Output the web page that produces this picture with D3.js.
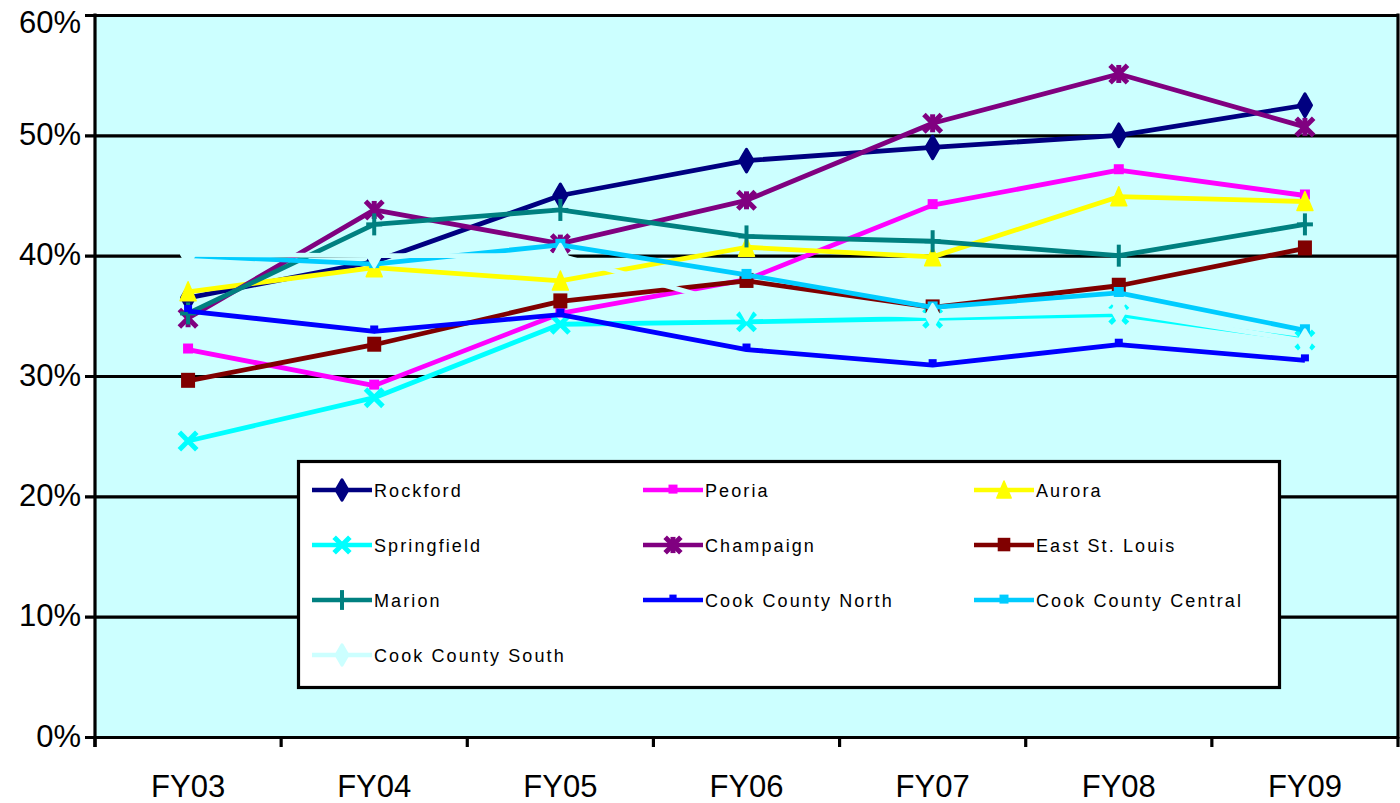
<!DOCTYPE html>
<html>
<head>
<meta charset="utf-8">
<script src="https://cdn.jsdelivr.net/npm/d3@7"></script>
<style>
  html, body { margin: 0; padding: 0; background: #fff; }
  svg { display: block; }
  text { font-family: "Liberation Sans", Arial, sans-serif; fill: #000; }
</style>
</head>
<body>
<svg id="chart" width="1400" height="803"></svg>
<script>
// Fiscal years on the category axis
const years = ["FY03", "FY04", "FY05", "FY06", "FY07", "FY08", "FY09"];

// Share per region, by fiscal year (fractions)
const rockford        = [0.365, 0.395, 0.450, 0.479, 0.490, 0.500, 0.525];
const peoria          = [0.322, 0.292, 0.352, 0.380, 0.442, 0.471, 0.450];
const aurora          = [0.370, 0.390, 0.379, 0.407, 0.399, 0.449, 0.445];
const springfield     = [0.246, 0.282, 0.343, 0.345, 0.348, 0.351, 0.330];
const champaign       = [0.348, 0.438, 0.410, 0.446, 0.510, 0.551, 0.507];
const eastStLouis     = [0.296, 0.326, 0.362, 0.379, 0.357, 0.375, 0.406];
const marion          = [0.352, 0.426, 0.438, 0.416, 0.412, 0.400, 0.426];
const cookNorth       = [0.354, 0.337, 0.351, 0.322, 0.309, 0.326, 0.313];
const cookCentral     = [0.400, 0.393, 0.409, 0.384, 0.357, 0.369, 0.338];
const cookSouth       = [0.401, 0.400, 0.400, 0.356, 0.350, 0.354, 0.329];

// Value axis ticks
const yTicks = [0, 0.1, 0.2, 0.3, 0.4, 0.5, 0.6];

const series = [
  { name: "Rockford",            values: rockford,    color: "#000080", marker: "diamond" },
  { name: "Peoria",              values: peoria,      color: "#FF00FF", marker: "smallSquare" },
  { name: "Aurora",              values: aurora,      color: "#FFFF00", marker: "triangle" },
  { name: "Springfield",         values: springfield, color: "#00FFFF", marker: "x" },
  { name: "Champaign",           values: champaign,   color: "#800080", marker: "star" },
  { name: "East St. Louis",      values: eastStLouis, color: "#800000", marker: "square" },
  { name: "Marion",              values: marion,      color: "#008080", marker: "plus" },
  { name: "Cook County North",   values: cookNorth,   color: "#0000FF", marker: "dash" },
  { name: "Cook County Central", values: cookCentral, color: "#00CCFF", marker: "smallSquare" },
  { name: "Cook County South",   values: cookSouth,   color: "#CCFFFF", marker: "diamond" }
];

const svg = d3.select("#chart");
const plot = { left: 95, right: 1398, top: 15, bottom: 737 };

const x = d3.scaleBand().domain(years).range([plot.left, plot.right]).padding(0);
const y = d3.scaleLinear().domain([0, 0.6]).range([plot.bottom, plot.top]);
const cx = d => x(d) + x.bandwidth() / 2;

// Plot background
svg.append("rect")
  .attr("x", plot.left).attr("y", plot.top)
  .attr("width", plot.right - plot.left).attr("height", plot.bottom - plot.top)
  .attr("fill", "#CCFFFF");

// Horizontal gridlines with short outer ticks
const yAxis = d3.axisLeft(y).tickValues(yTicks)
  .tickFormat(d3.format(".0%"))
  .tickSize(-(plot.right - plot.left)).tickSizeOuter(0).tickPadding(14);
const gy = svg.append("g").attr("transform", `translate(${plot.left},0)`).call(yAxis);
gy.select(".domain").remove();
gy.selectAll(".tick line").attr("x1", -10).attr("stroke", "#000").attr("stroke-width", 3.2);
gy.selectAll(".tick text").attr("font-size", 31)
  .attr("dy", d => d === 0.6 ? "0.55em" : "0.3em")
  .attr("font-family", "'Liberation Sans', Arial, sans-serif");

// Right border and left axis line
svg.append("line").attr("x1", plot.right).attr("x2", plot.right)
  .attr("y1", plot.top - 1.5).attr("y2", plot.bottom + 1.5)
  .attr("stroke", "#000").attr("stroke-width", 3.2);
svg.append("line").attr("x1", plot.left).attr("x2", plot.left)
  .attr("y1", plot.top - 1.5).attr("y2", plot.bottom + 10)
  .attr("stroke", "#000").attr("stroke-width", 3.2);

// Category axis: ticks at category boundaries, labels centred
const xAxis = d3.axisBottom(x).tickSize(0).tickPadding(0);
const gx = svg.append("g").attr("transform", `translate(0,${plot.bottom})`).call(xAxis);
gx.select(".domain").attr("stroke", "#000").attr("stroke-width", 3.2);
gx.selectAll(".tick text").attr("font-size", 31).attr("y", 60).attr("dy", 0)
  .attr("font-family", "'Liberation Sans', Arial, sans-serif");
const bounds = years.map(d => x(d)).concat([plot.right]);
svg.append("g").selectAll("line").data(bounds).join("line")
  .attr("x1", d => d).attr("x2", d => d)
  .attr("y1", plot.bottom).attr("y2", plot.bottom + 10)
  .attr("stroke", "#000").attr("stroke-width", 3.2);

// Marker drawing
function drawMarker(g, type, color, px, py, scale = 1) {
  const s = scale;
  switch (type) {
    case "diamond":
      g.append("path").attr("d", d3.symbol(d3.symbolDiamond, 150 * s * s)())
        .attr("transform", `translate(${px},${py})`)
        .attr("fill", color).attr("stroke", color).attr("stroke-width", 3).attr("stroke-linejoin", "round");
      break;
    case "smallSquare":
      g.append("rect").attr("x", px - 5 * s).attr("y", py - 6 * s)
        .attr("width", 10 * s).attr("height", 10 * s).attr("fill", color);
      break;
    case "square":
      g.append("rect").attr("x", px - 7 * s).attr("y", py - 8 * s)
        .attr("width", 14 * s).attr("height", 15 * s).attr("fill", color);
      break;
    case "triangle":
      g.append("path").attr("d", `M${px},${py - 10 * s} L${px + 8 * s},${py + 9 * s} L${px - 8 * s},${py + 9 * s} Z`)
        .attr("fill", color).attr("stroke", color).attr("stroke-width", 1.5).attr("stroke-linejoin", "round");
      break;
    case "x":
      g.append("path").attr("d", d3.symbol(d3.symbolTimes, 200 * s * s)())
        .attr("transform", `translate(${px},${py})`)
        .attr("fill", "none").attr("stroke", color).attr("stroke-width", 5);
      break;
    case "star":
      g.append("path").attr("d", d3.symbol(d3.symbolTimes, 200 * s * s)())
        .attr("transform", `translate(${px},${py})`)
        .attr("fill", "none").attr("stroke", color).attr("stroke-width", 5);
      g.append("line").attr("x1", px).attr("x2", px)
        .attr("y1", py - 9 * s).attr("y2", py + 9 * s)
        .attr("stroke", color).attr("stroke-width", 5);
      break;
    case "plus":
      g.append("line").attr("x1", px).attr("x2", px)
        .attr("y1", py - 11 * s).attr("y2", py + 11 * s)
        .attr("stroke", color).attr("stroke-width", 4);
      g.append("line").attr("x1", px - 8 * s).attr("x2", px + 8 * s)
        .attr("y1", py).attr("y2", py)
        .attr("stroke", color).attr("stroke-width", 4);
      break;
    case "dash":
      g.append("rect").attr("x", px - 4 * s).attr("y", py - 6 * s)
        .attr("width", 8 * s).attr("height", 7 * s).attr("fill", color);
      break;
  }
}

// Series lines and markers, in series order
const line = d3.line().x((d, i) => cx(years[i])).y(d => y(d));
series.forEach(s => {
  const g = svg.append("g").attr("class", "series");
  g.append("path").datum(s.values).attr("d", line)
    .attr("fill", "none").attr("stroke", s.color)
    .attr("stroke-width", 4.8).attr("stroke-linejoin", "round");
  s.values.forEach((v, i) => drawMarker(g, s.marker, s.color, cx(years[i]), y(v)));
});

// Legend
const legend = svg.append("g").attr("transform", "translate(297,460)");
legend.append("rect").attr("x", 1.5).attr("y", 1.5).attr("width", 981).attr("height", 226)
  .attr("fill", "#fff").attr("stroke", "#000").attr("stroke-width", 3.2);
const colX = [15, 346, 677];
const rowY = [30, 85, 140, 195];
series.forEach((s, i) => {
  const lx = colX[i % 3], ly = rowY[Math.floor(i / 3)];
  const item = legend.append("g");
  item.append("line").attr("x1", lx).attr("x2", lx + 60).attr("y1", ly).attr("y2", ly)
    .attr("stroke", s.color).attr("stroke-width", 4.5);
  drawMarker(item, s.marker, s.color, lx + 30, ly, 0.9);
  item.append("text").attr("x", lx + 62).attr("y", ly + 7)
    .attr("font-size", 18).attr("letter-spacing", 2.1)
    .text(s.name);
});
</script>
</body>
</html>
